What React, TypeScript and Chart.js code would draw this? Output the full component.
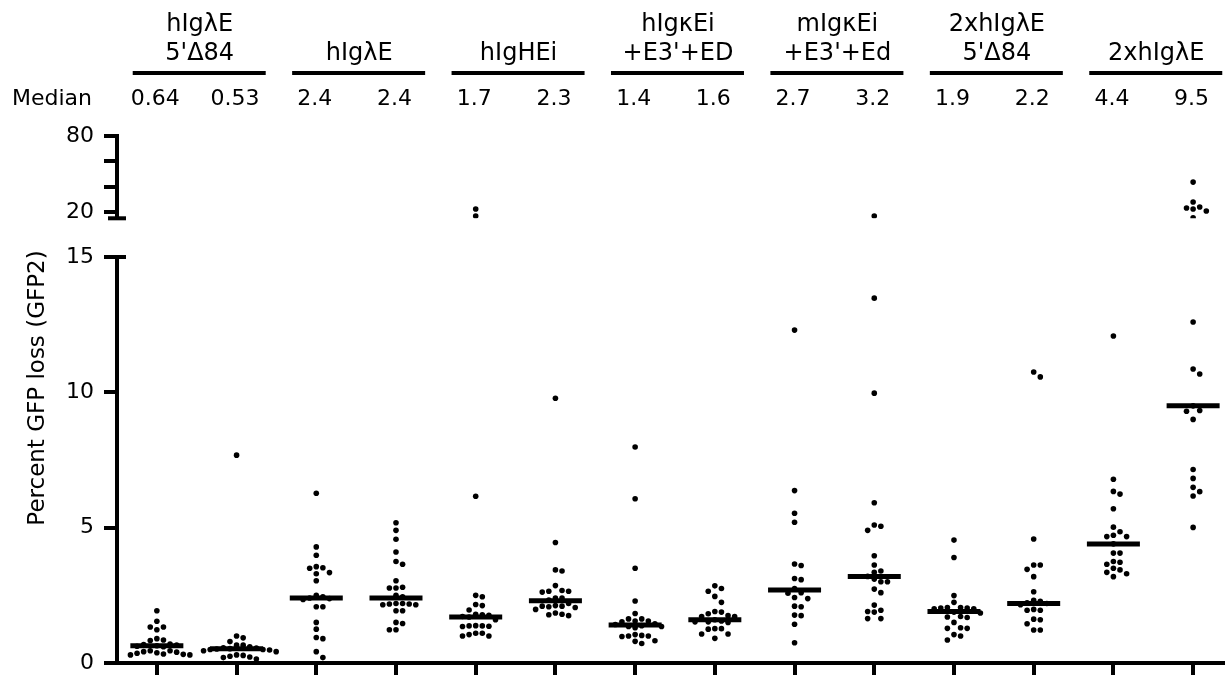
import React, { useEffect, useRef } from 'react';
import { Chart, registerables } from 'chart.js';

Chart.register(...registerables);

// ---------- data ----------
const groupLabels: string[][] = [
  ['hIgλE', "5'Δ84"],
  ['hIgλE'],
  ['hIgHEi'],
  ['hIgκEi', "+E3'+ED"],
  ['mIgκEi', "+E3'+Ed"],
  ['2xhIgλE', "5'Δ84"],
  ['2xhIgλE'],
];
const medianTitle = 'Median';
const medians = [0.64, 0.53, 2.4, 2.4, 1.7, 2.3, 1.4, 1.6, 2.7, 3.2, 1.9, 2.2, 4.4, 9.5];
const yTitle = 'Percent GFP loss (GFP2)';
const lowerTicks = [0, 5, 10, 15];
const upperTicks = [20, 40, 60, 80];
const upperLabeled = [20, 80];

const c1 = [1.93, 1.54, 1.33, 1.33, 1.23, 0.85, 0.83, 0.9, 0.7, 0.68, 0.66, 0.64, 0.62, 0.6, 0.45, 0.42, 0.38, 0.33, 0.3, 0.3, 0.32, 0.36, 0.4, 0.45];
const c2 = [7.68, 1.0, 0.93, 0.79, 0.66, 0.66, 0.6, 0.56, 0.55, 0.53, 0.52, 0.5, 0.5, 0.48, 0.45, 0.42, 0.3, 0.25, 0.2, 0.15, 0.22, 0.28];
const c3 = [6.27, 4.29, 3.98, 3.56, 3.52, 3.5, 3.34, 3.3, 3.04, 2.5, 2.45, 2.4, 2.38, 2.35, 2.08, 2.08, 1.5, 1.25, 0.94, 0.9, 0.42, 0.2];
const c4 = [5.18, 4.9, 4.57, 4.1, 3.75, 3.65, 3.04, 2.8, 2.77, 2.77, 2.5, 2.45, 2.2, 2.18, 2.15, 2.2, 2.18, 2.15, 1.93, 1.93, 1.5, 1.46, 1.23, 1.23];
const c5 = [22.3, 16.8, 6.16, 2.5, 2.45, 2.16, 2.12, 1.96, 1.8, 1.78, 1.76, 1.72, 1.7, 1.6, 1.37, 1.35, 1.38, 1.36, 1.37, 1.1, 1.05, 1.0, 1.0, 1.1];
const c6 = [9.78, 4.45, 3.44, 3.4, 2.86, 2.68, 2.65, 2.62, 2.65, 2.4, 2.4, 2.33, 2.2, 2.12, 2.1, 2.08, 2.1, 2.05, 1.98, 1.85, 1.8, 1.75, 1.78];
const c7 = [7.98, 6.07, 3.5, 2.29, 1.83, 1.63, 1.63, 1.55, 1.55, 1.52, 1.45, 1.42, 1.38, 1.35, 1.35, 1.3, 1.05, 1.02, 1.0, 0.98, 1.0, 0.82, 0.72, 0.8];
const c8 = [2.85, 2.75, 2.65, 2.46, 2.24, 1.9, 1.88, 1.82, 1.75, 1.72, 1.72, 1.6, 1.55, 1.52, 1.5, 1.52, 1.27, 1.25, 1.27, 1.07, 1.07, 0.91];
const c9 = [12.3, 6.37, 5.53, 5.2, 3.66, 3.6, 3.12, 3.08, 2.75, 2.6, 2.58, 2.42, 2.38, 2.1, 2.08, 1.77, 1.75, 1.43, 0.75];
const c10 = [16.8, 13.48, 9.97, 5.92, 5.1, 5.05, 4.9, 3.96, 3.62, 3.4, 3.35, 3.2, 3.1, 3.0, 3.0, 2.73, 2.6, 2.14, 1.95, 1.9, 1.88, 1.64, 1.64];
const c11 = [4.54, 3.9, 2.49, 2.24, 2.05, 2.03, 2.0, 2.05, 2.03, 2.0, 1.88, 1.85, 1.72, 1.7, 1.68, 1.5, 1.28, 1.28, 1.3, 1.05, 1.0, 0.85];
const c12 = [10.75, 10.57, 4.58, 3.62, 3.62, 3.46, 3.19, 2.63, 2.32, 2.28, 2.22, 2.2, 2.15, 1.95, 1.95, 1.98, 1.62, 1.6, 1.45, 1.22, 1.22];
const c13 = [12.08, 6.79, 6.34, 6.24, 5.7, 5.02, 4.85, 4.72, 4.67, 4.67, 4.4, 4.06, 4.06, 3.75, 3.72, 3.65, 3.5, 3.44, 3.35, 3.3, 3.19];
const c14 = [43.6, 27.9, 23.9, 23.1, 22.3, 20.8, 15.4, 12.6, 10.86, 10.68, 9.5, 9.33, 9.3, 9.0, 7.15, 6.82, 6.49, 6.33, 6.17, 5.01];

const columns = [c1, c2, c3, c4, c5, c6, c7, c8, c9, c10, c11, c12, c13, c14];

// ---------- layout constants ----------
const W = 1225;
const H = 675;
const TOP = 136;
const AXIS_X = 117;
const X_AXIS_H = 12;
const UPPER_H = 82.3;
const GAP_H = 38.7;
const LOWER_H = 406;
const BREAK = 15;
const UPPER_MAX = 80;
const X_MIN = -0.5;
const X_MAX = 13.4;
const X_PX = (W - AXIS_X) / (X_MAX - X_MIN);
const SPACING = 6.6;
const FONT = '"DejaVu Sans", Verdana, sans-serif';

function yPx(v: number) {
  return v <= BREAK
    ? (v * LOWER_H) / BREAK
    : LOWER_H + GAP_H + ((v - BREAK) * UPPER_H) / (UPPER_MAX - BREAK);
}

// deterministic beeswarm spread computed from the values
function swarm(values: number[], col: number) {
  const placed: { x: number; y: number }[] = [];
  const out: { x: number; y: number }[] = [];
  const order = values.map((_, i) => i).sort((a, b) => values[b] - values[a]);
  for (const i of order) {
    const v = values[i];
    const py = yPx(v);
    let off = 0;
    for (let k = 0; k < 80; k++) {
      const cand = k === 0 ? 0 : (k % 2 === 1 ? 1 : -1) * Math.ceil(k / 2) * SPACING;
      if (placed.every((p) => Math.hypot(p.x - cand, p.y - py) >= SPACING - 0.01)) {
        off = cand;
        break;
      }
    }
    placed.push({ x: off, y: py });
    out.push({ x: col + off / X_PX, y: v });
  }
  return out;
}

const allPoints = columns.flatMap((vals, i) => swarm(vals, i));
const lowerPoints = allPoints.filter((p) => p.y <= BREAK);
const upperPoints = allPoints.filter((p) => p.y > BREAK);

const tickFont = { family: FONT, size: 22 };

const headerPlugin = {
  id: 'header',
  afterDraw(chart: any) {
    const { ctx, scales, chartArea } = chart;
    const x = scales.x;
    const yTop = scales.yTop;
    const y = scales.y;
    ctx.save();
    ctx.fillStyle = '#000';
    // group labels + lines
    ctx.font = `24px ${FONT}`;
    ctx.textAlign = 'center';
    ctx.textBaseline = 'alphabetic';
    groupLabels.forEach((lines, g) => {
      const cx = (x.getPixelForValue(2 * g) + x.getPixelForValue(2 * g + 1)) / 2;
      lines.forEach((t, j) => {
        const base = 60 - (lines.length - 1 - j) * 29;
        ctx.fillText(t, cx + 3, base);
      });
      ctx.fillRect(cx + 2.5 - 66.5, 71, 133, 4);
    });
    // medians row
    ctx.font = `22px ${FONT}`;
    ctx.textAlign = 'left';
    ctx.fillText(medianTitle, 12, 105);
    ctx.textAlign = 'center';
    medians.forEach((m, i) => {
      ctx.fillText(String(m), x.getPixelForValue(i) - 1.5, 105);
    });
    // y title
    ctx.save();
    ctx.translate(38, 388);
    ctx.rotate(-Math.PI / 2);
    ctx.font = `23px ${FONT}`;
    ctx.textAlign = 'center';
    ctx.textBaseline = 'middle';
    ctx.fillText(yTitle, 0, 0);
    ctx.restore();
    // axis break caps
    const ax = chartArea.left;
    ctx.fillRect(ax - 9, yTop.bottom - 2, 18, 4);
    ctx.fillRect(ax, y.top - 2, 9, 4);
    ctx.restore();
  },
};

function yAxisCommon() {
  return {
    type: 'linear' as const,
    position: 'left' as const,
    stack: 'yaxis',
    ticks: { font: tickFont, color: '#000', padding: 10, autoSkip: false },
    grid: {
      display: true,
      drawOnChartArea: false,
      drawTicks: true,
      tickLength: 13,
      lineWidth: 4,
      color: '#000',
    },
    border: { display: true, width: 4, color: '#000' },
    afterFit: (s: any) => {
      s.width = AXIS_X;
      s.paddingTop = 0;
      s.paddingBottom = 0;
    },
  };
}

export default function App() {
  const ref = useRef<HTMLCanvasElement>(null);
  useEffect(() => {
    if (!ref.current) return;
    const chart = new Chart(ref.current, {
      type: 'scatter',
      data: {
        datasets: [
          {
            data: medians.map((m, i) => ({ x: i, y: m })),
            yAxisID: 'y',
            pointStyle: 'line',
            pointRadius: 26.5,
            pointBorderWidth: 5,
            borderColor: '#000',
            pointBorderColor: '#000',
            backgroundColor: '#000',
          } as any,
          {
            data: lowerPoints,
            yAxisID: 'y',
            pointRadius: 2.8,
            pointBorderWidth: 0,
            pointBackgroundColor: '#000',
            backgroundColor: '#000',
          } as any,
          {
            data: upperPoints,
            yAxisID: 'yTop',
            pointRadius: 2.8,
            pointBorderWidth: 0,
            pointBackgroundColor: '#000',
            backgroundColor: '#000',
          } as any,
        ],
      },
      options: {
        animation: false,
        responsive: false,
        devicePixelRatio: 1,
        events: [],
        layout: { autoPadding: false, padding: { top: TOP, left: 0, right: 0, bottom: 0 } },
        plugins: { legend: { display: false }, tooltip: { enabled: false } },
        scales: {
          x: {
            type: 'linear',
            position: 'bottom',
            min: X_MIN,
            max: X_MAX,
            afterBuildTicks: (s: any) => {
              s.ticks = columns.map((_, i) => ({ value: i }));
            },
            afterFit: (s: any) => {
              s.height = X_AXIS_H;
              s.paddingLeft = 0;
              s.paddingRight = 0;
            },
            ticks: { display: false },
            grid: {
              display: true,
              drawOnChartArea: false,
              drawTicks: true,
              tickLength: 12,
              lineWidth: 4,
              color: '#000',
            },
            border: { display: true, width: 4, color: '#000' },
          },
          yTop: {
            ...yAxisCommon(),
            weight: 3,
            stackWeight: UPPER_H,
            min: BREAK,
            max: UPPER_MAX,
            afterBuildTicks: (s: any) => {
              s.ticks = upperTicks.map((v) => ({ value: v }));
            },
            ticks: {
              font: tickFont,
              color: '#000',
              padding: 10,
              autoSkip: false,
              callback: (v: any) => (upperLabeled.includes(Number(v)) ? String(v) : ''),
            },
          },
          yGap: {
            type: 'linear',
            position: 'left',
            stack: 'yaxis',
            weight: 2,
            stackWeight: GAP_H,
            min: 0,
            max: 1,
            ticks: { display: false },
            grid: { display: false },
            border: { display: false },
            afterFit: (s: any) => {
              s.width = AXIS_X;
              s.paddingTop = 0;
              s.paddingBottom = 0;
            },
          },
          y: {
            ...yAxisCommon(),
            weight: 1,
            stackWeight: LOWER_H,
            min: 0,
            max: BREAK,
            afterBuildTicks: (s: any) => {
              s.ticks = lowerTicks.map((v) => ({ value: v }));
            },
          },
        } as any,
      },
      plugins: [headerPlugin],
    });
    return () => chart.destroy();
  }, []);

  return (
    <div style={{ position: 'absolute', left: 0, top: 0, width: W, height: H, background: '#fff' }}>
      <canvas ref={ref} width={W} height={H} style={{ width: W, height: H, display: 'block' }} />
    </div>
  );
}
